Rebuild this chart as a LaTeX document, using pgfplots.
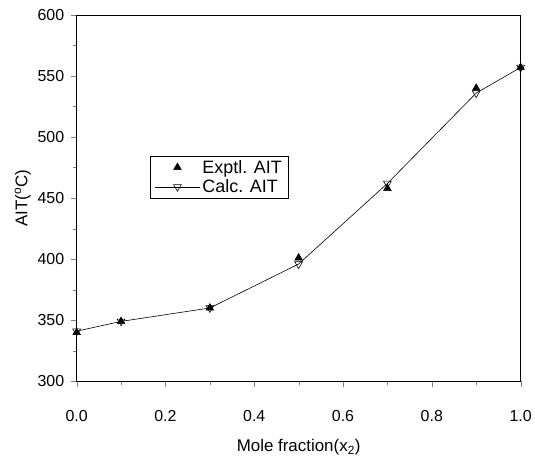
\documentclass[border=0pt]{standalone}
\usepackage{pgfplots}
\pgfplotsset{compat=1.18}
\usetikzlibrary{calc}
\usepackage{fontspec}
\setmainfont{Liberation Sans}
\begin{document}
\begin{tikzpicture}
\begin{axis}[
  name=ax,
  scale only axis,
  width=446pt, height=368pt,
  xmin=0, xmax=1, ymin=300, ymax=600,
  xtick={0,0.2,...,1.0},
  ytick={300,350,...,600},
  minor x tick num=1,
  minor y tick num=1,
  xticklabel style={/pgf/number format/fixed,/pgf/number format/fixed zerofill,/pgf/number format/precision=1, yshift=-20pt},
  yticklabel style={xshift=-3pt},
  /pgf/number format/assume math mode=true,
  tick align=outside,
  tick pos=left,
  major tick length=6pt,
  minor tick length=3.5pt,
  tick label style={font=\fontsize{16}{18}\selectfont},
  label style={font=\fontsize{17}{19}\selectfont},
  xlabel={Mole fraction(x\textsubscript{2})},
  ylabel={AIT(\textsuperscript{o}C)},
  xlabel style={yshift=-11pt},
  axis line style={line width=0.8pt},
  legend style={at={(0.166,0.615)}, anchor=north west, font=\fontsize{18}{20}\selectfont, draw=black, row sep=1pt, inner xsep=4pt, inner ysep=2pt},
  legend cell align=left,
  legend image code/.code={\draw[mark repeat=2,mark phase=2,#1] plot coordinates {(0cm,0cm) (0.8cm,0cm) (1.6cm,0cm)};},
  clip=false,
]
\addplot[only marks, mark=triangle*, mark size=4.5pt, mark options={fill=black}] coordinates {
  (0,340) (0.1,349) (0.3,360) (0.5,401) (0.7,458) (0.9,540) (1.0,557)
};
\addlegendentry{Exptl. AIT}
\addplot[black, line width=0.6pt, mark=triangle, mark size=4.5pt, mark options={rotate=180, fill=white, solid}] coordinates {
  (0,341) (0.1,349) (0.3,360) (0.5,396) (0.7,462) (0.9,536) (1.0,557)
};
\addlegendentry{Calc. AIT}
\end{axis}
\path (ax.south west) ++(-77pt,-78pt) rectangle ($(ax.north east)+(12pt,15pt)$);
\end{tikzpicture}
\end{document}
